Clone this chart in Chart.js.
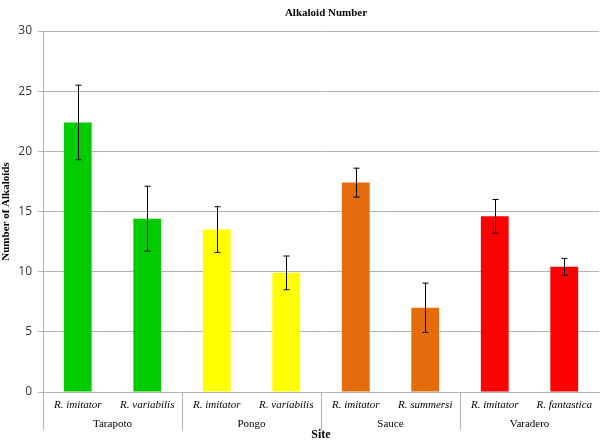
<!DOCTYPE html>
<html>
<head>
<meta charset="utf-8">
<script src="https://cdn.jsdelivr.net/npm/chart.js@4.4.1/dist/chart.umd.min.js"></script>
<style>
  html, body { margin: 0; padding: 0; background: #fff; }
  #wrap { width: 600px; height: 442px; }
</style>
</head>
<body>
<div id="wrap"><canvas id="chart" width="600" height="442"></canvas></div>
<script>
// ---- data ----
const species = ['R. imitator', 'R. variabilis', 'R. imitator', 'R. variabilis',
                 'R. imitator', 'R. summersi', 'R. imitator', 'R. fantastica'];
const sites = ['Tarapoto', 'Pongo', 'Sauce', 'Varadero'];
const alkaloids = [22.4, 14.4, 13.5, 9.9, 17.4, 7.0, 14.6, 10.4];
const errors = [3.1, 2.7, 1.9, 1.4, 1.2, 2.05, 1.4, 0.7];
const siteColors = ['#00cc00', '#ffff00', '#e46c0a', '#ff0000'];
const yTicks = [0, 5, 10, 15, 20, 25, 30];
const chartTitle = 'Alkaloid Number';

const serif = '"Liberation Serif", "Times New Roman", serif';
const sans = '"Open Sans", "Liberation Sans", sans-serif';

/** 误差线 */
const errorBars = {
  id: 'errorBars',
  afterDatasetsDraw(chart) {
    const ctx = chart.ctx;
    const y = chart.scales.y;
    const meta = chart.getDatasetMeta(0);
    ctx.save();
    ctx.strokeStyle = '#000';
    ctx.lineWidth = 1;
    meta.data.forEach((bar, i) => {
      const x = Math.round(bar.x) + 0.5;
      const top = y.getPixelForValue(alkaloids[i] + errors[i]);
      const bot = y.getPixelForValue(alkaloids[i] - errors[i]);
      ctx.beginPath();
      ctx.moveTo(x, top); ctx.lineTo(x, bot);
      ctx.moveTo(x - 3, top); ctx.lineTo(x + 3, top);
      ctx.moveTo(x - 3, bot); ctx.lineTo(x + 3, bot);
      ctx.stroke();
    });
    ctx.restore();
  }
};

/** 第二层分类标签（地点）、分隔线和标题 */
const siteAxis = {
  id: 'siteAxis',
  afterDraw(chart) {
    const ctx = chart.ctx;
    const xs = chart.scales.x;
    const area = chart.chartArea;
    const per = species.length / sites.length;
    ctx.save();
    ctx.strokeStyle = '#b3b3b3';
    ctx.lineWidth = 1;
    ctx.fillStyle = '#000';
    ctx.font = '11px ' + serif;
    ctx.textAlign = 'center';
    ctx.textBaseline = 'middle';
    sites.forEach((s, g) => {
      const first = g * per, last = first + per - 1;
      const left = first === 0 ? area.left
        : (xs.getPixelForValue(first - 1) + xs.getPixelForValue(first)) / 2;
      const right = last === species.length - 1 ? area.right
        : (xs.getPixelForValue(last) + xs.getPixelForValue(last + 1)) / 2;
      const lx = Math.round(left) + 0.5;
      ctx.beginPath();
      ctx.moveTo(lx, area.bottom);
      ctx.lineTo(lx, 430);
      ctx.stroke();
      ctx.fillText(s, (left + right) / 2, 424);
    });

    // 标题（居中于绘图区上方）
    ctx.font = 'bold 11px ' + serif;
    ctx.fillText(chartTitle, (area.left + area.right) / 2 + 5, 13);
    ctx.restore();
  }
};

new Chart(document.getElementById('chart'), {
  type: 'bar',
  data: {
    labels: species,
    datasets: [{
      data: alkaloids,
      backgroundColor: alkaloids.map((v, i) => siteColors[Math.floor(i / 2)]),
      borderWidth: 0,
      barPercentage: 0.4,
      categoryPercentage: 1
    }]
  },
  options: {
    responsive: false,
    animation: false,
    events: [],
    layout: { padding: { left: 0, right: 1, top: 31, bottom: 0 } },
    plugins: {
      legend: { display: false },
      tooltip: { enabled: false },
      title: { display: false }
    },
    scales: {
      x: {
        offset: true,
        grid: { display: true, drawOnChartArea: false, drawTicks: false, color: 'rgba(0,0,0,0)' },
        border: { display: true, color: '#b3b3b3' },
        ticks: {
          color: '#000',
          font: { family: serif, size: 11, style: 'italic' },
          padding: 7,
          maxRotation: 0,
          autoSkip: false
        },
        title: {
          display: true,
          text: 'Site',
          color: '#000',
          font: { family: serif, size: 12, weight: 'bold' },
          padding: { top: 0, bottom: 0 }
        },
        afterFit(scale) { scale.height = 50; }
      },
      y: {
        min: 0,
        max: 30,
        afterBuildTicks(scale) { scale.ticks = yTicks.map(v => ({ value: v })); },
        grid: { color: '#b3b3b3', tickLength: 5 },
        border: { color: '#b3b3b3' },
        ticks: {
          color: '#333',
          font: { family: sans, size: 12 },
          padding: 6
        },
        title: {
          display: true,
          text: 'Number of Alkaloids',
          color: '#000',
          font: { family: serif, size: 11, weight: 'bold' },
          padding: { top: 0, bottom: 0 }
        },
        afterFit(scale) { scale.width = 43; }
      }
    }
  },
  plugins: [errorBars, siteAxis]
});
</script>
</body>
</html>
